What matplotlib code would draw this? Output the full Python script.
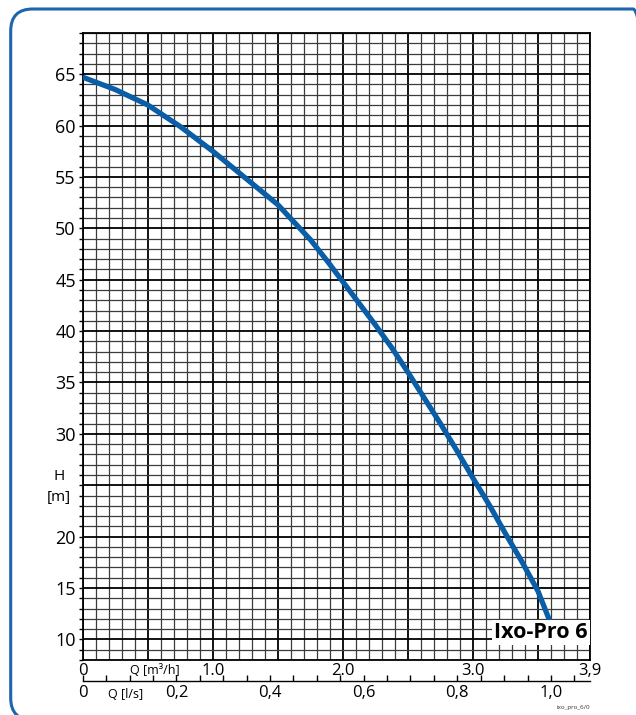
import numpy as np
import matplotlib
matplotlib.use("Agg")
import matplotlib.pyplot as plt
from matplotlib.patches import FancyBboxPatch
from matplotlib.transforms import IdentityTransform
from matplotlib.ticker import FuncFormatter

plt.rcParams['font.family'] = ['Open Sans', 'DejaVu Sans']

# pump curve Ixo-Pro 6
q_m3h = [0, 0.25, 0.5, 0.75, 1.0, 1.25, 1.5, 1.75, 1.875, 2.0, 2.125, 2.25, 2.375, 2.5,
         2.625, 2.75, 2.875, 3.0, 3.125, 3.25, 3.375, 3.5, 3.6]
h_m = [64.7, 63.5, 62.0, 59.9, 57.5, 54.9, 52.3, 48.9, 46.9, 44.8, 42.7, 40.6, 38.4, 36.0,
       33.5, 31.0, 28.4, 25.7, 23.1, 20.3, 17.6, 14.7, 11.5]

y_ticks = [10, 15, 20, 25, 30, 35, 40, 45, 50, 55, 60, 65]
y_labels = ['10', '15', '20', '', '30', '35', '40', '45', '50', '55', '60', '65']
x_labels = {0: '0', 1.0: '1.0', 2.0: '2.0', 3.0: '3.0', 3.9: '3,9'}
ls_ticks = [0, 0.2, 0.4, 0.6, 0.8, 1.0]

blue = '#0a5ea8'

fig = plt.figure(figsize=(6.36, 7.15), dpi=100)
ax = fig.add_axes([82.7/636, 1-660/715, (590-82.7)/636, (660-33)/715])

ax.set_xlim(0, 3.9)
ax.set_ylim(8, 69)

# grid
xmaj = list(np.arange(0, 3.51, 0.5)) + [3.9]
ax.set_xticks(xmaj)
ax.set_xticklabels([x_labels.get(round(v, 1), '') for v in xmaj])
ax.set_xticks(np.arange(0, 3.91, 0.1), minor=True)
ax.set_yticks(y_ticks)
ax.set_yticklabels(y_labels)
ax.set_yticks(np.arange(8, 69.1, 1), minor=True)
ax.grid(which='minor', color='#3c3c3c', lw=0.9)
ax.grid(which='major', color='black', lw=1.3)
ax.set_axisbelow(True)
for s in ax.spines.values():
    s.set_linewidth(1.3)
ax.tick_params(axis='x', which='both', length=0, pad=2, labelsize=12)
ax.tick_params(axis='y', which='both', length=3, width=1, direction='out', pad=2, labelsize=13)

ax.plot(q_m3h, h_m, color=blue, lw=3.8, solid_capstyle='butt', solid_joinstyle='round', zorder=5)

ax.text(3.88, 10.7, 'Ixo-Pro 6', ha='right', va='center', fontsize=15.5, fontweight='bold',
        bbox=dict(facecolor='white', edgecolor='none', pad=1.5), zorder=6)

# second axis in l/s
sec = ax.secondary_xaxis(-0.033, functions=(lambda q: q/3.6, lambda l: l*3.6))
sec.set_xticks(ls_ticks)
sec.set_xticks(np.arange(0, 1.08, 0.05), minor=True)
sec.xaxis.set_major_formatter(FuncFormatter(lambda v, p: '0' if v == 0 else f'{v:.1f}'.replace('.', ',')))
sec.tick_params(which='both', direction='in', length=4, width=1, pad=3, labelsize=12)
sec.spines['bottom'].set_linewidth(1)

# axis names
fig.text(155/636, 1-671/715, 'Q [m³/h]', ha='center', va='center', fontsize=9)
fig.text(126/636, 1-694/715, 'Q [l/s]', ha='center', va='center', fontsize=9)
fig.text(59/636, 1-476/715, 'H', ha='center', va='center', fontsize=11)
fig.text(59/636, 1-497/715, '[m]', ha='center', va='center', fontsize=11)
fig.text(573/636, 1-707/715, 'ixo_pro_6/0', ha='center', va='center', fontsize=4.5, color='#333333')

# rounded frame
frame = FancyBboxPatch((10.7, -5), 655-10.7, 711, boxstyle='round,pad=0,rounding_size=22',
                       transform=IdentityTransform(), facecolor='none', edgecolor='#1d65ad', lw=2.2)
fig.add_artist(frame)

fig.savefig('out.png', dpi=100)
